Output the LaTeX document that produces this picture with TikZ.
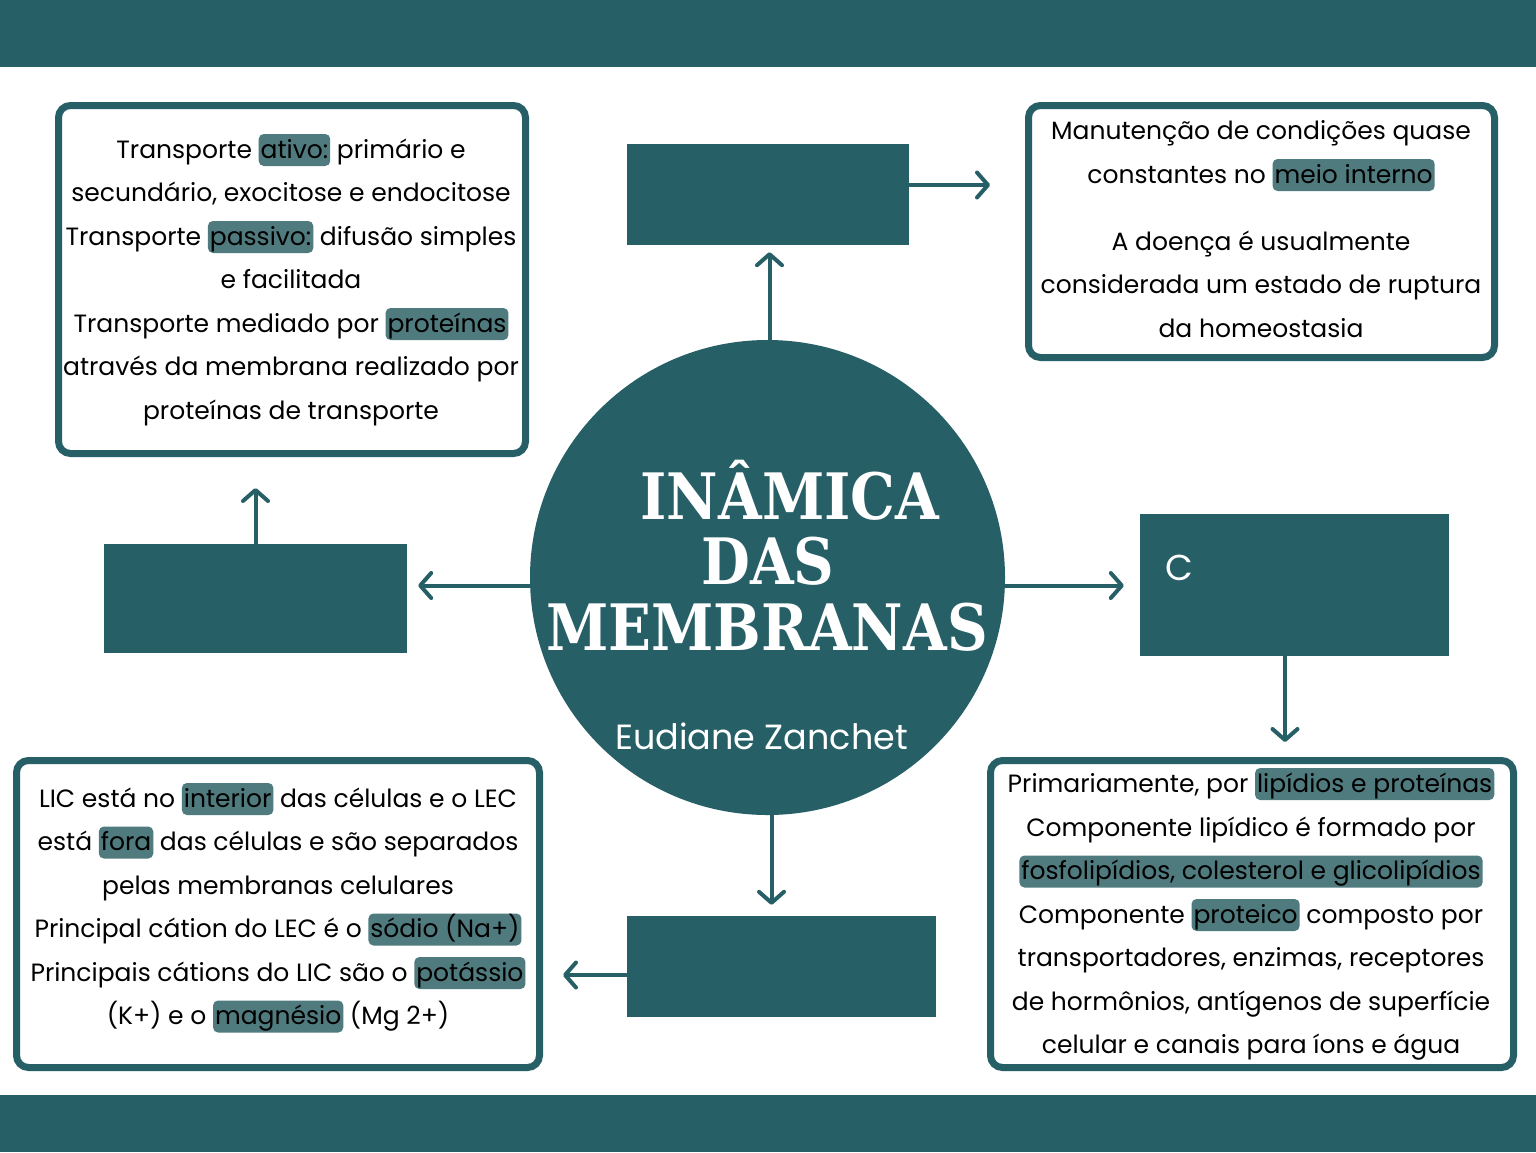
\documentclass[tikz,border=0pt]{standalone}
\usepackage{fontspec}
\usepackage{graphicx}
\setmainfont{Poppins}
\newfontfamily\titlefont{DejaVu Serif}
\usetikzlibrary{arrows.meta,calc}
\definecolor{teal1}{HTML}{265F66}
\definecolor{hlc}{HTML}{4F7A7E}
\tikzset{
  panel/.style={draw=teal1, line width=7pt, rounded corners=12pt, fill=white, inner sep=0pt},
  blockr/.style={fill=teal1, inner sep=0pt},
  arr/.style={draw=teal1, line width=4pt, -{Straight Barb[length=11pt,width=25pt,round]}},
  body/.style={anchor=base, inner sep=0pt, text=black, font=\fontsize{25}{30}\selectfont},
  hlbox/.style={fill=hlc, rounded corners=5pt, inner xsep=2pt, inner ysep=0pt, text height=24pt, text depth=8pt, anchor=base},
  titlest/.style={anchor=base, inner sep=0pt, text=white, font=\titlefont\bfseries\fontsize{64}{64}\selectfont},
}
\newcommand\hlw[1]{\tikz[baseline=0pt]\node[hlbox]{#1};}
\newcommand\tsq[1]{\scalebox{0.88}[1]{#1}}
\begin{document}
\begin{tikzpicture}[x=1pt,y=-1pt]
\useasboundingbox (0,0) rectangle (1536,1152);
\fill[white] (0,0) rectangle (1536,1152);
% bars
\fill[teal1] (0,0) rectangle (1536,67);
\fill[teal1] (0,1095) rectangle (1536,1152);
% panels
\node[panel, minimum width=467pt, minimum height=348pt] (tl) at (292,279.5) {};
\node[panel, minimum width=466pt, minimum height=252pt] (tr) at (1261.5,231.5) {};
\node[panel, minimum width=523pt, minimum height=307pt] (bl) at (278,914) {};
\node[panel, minimum width=523pt, minimum height=307pt] (br) at (1252,914) {};
% dark blocks
\node[blockr, minimum width=282pt, minimum height=101pt] (ctop) at (768,194.5) {};
\node[blockr, minimum width=303pt, minimum height=109pt] (lrect) at (255.5,598.5) {};
\node[blockr, minimum width=309pt, minimum height=142pt] (rrect) at (1294.5,585) {};
\node[blockr, minimum width=309pt, minimum height=101pt] (brect) at (781.5,966.5) {};
\node[anchor=base, inner sep=0pt, text=white, font=\fontsize{36}{36}\selectfont] (cl) at (1179,580) {C};
% circle
\node[circle, fill=teal1, minimum size=475pt, inner sep=0pt] (circ) at (767.5,577.5) {};
\node[titlest] (ti1) at (790,519) {\tsq{INÂMICA}};
\node[titlest] (ti2) at (768,584) {\tsq{DAS}};
\node[titlest] (ti3) at (767,650) {\tsq{MEMBRANAS}};
\node[anchor=base, inner sep=0pt, text=white, font=\fontsize{35}{35}\selectfont] (auth) at (761.5,749) {Eudiane Zanchet};
% free ends
\coordinate (e2) at (990,185);
\coordinate (e6) at (1285,742);
\coordinate (e8) at (563,975);
% arrows
\draw[arr] ([xshift=2pt]circ.north) -- ([xshift=2pt]circ.north |- ctop.south) [shorten >=7pt];
\draw[arr] (ctop.east |- e2) -- (e2);
\draw[arr] ([yshift=-8pt]circ.west) -- ([yshift=-8pt,xshift=11pt]lrect.east |- circ.west);
\draw[arr] (lrect.north) -- ([yshift=-31pt]lrect.north |- tl.south);
\draw[arr] ([yshift=-8pt]circ.east) -- ([yshift=-8pt,xshift=-16pt]rrect.west |- circ.east);
\draw[arr] (e6 |- rrect.south) -- (e6);
\draw[arr] ([xshift=4pt]circ.south) -- ([xshift=4pt,yshift=11pt]circ.south |- brect.north);
\draw[arr] (brect.west |- e8) -- (e8);
% TL text
\node[body] (a1) at (291,158) {Transporte \hlw{ativo:} primário e};
\node[body] (a2) at (291,201.5) {secundário, exocitose e endocitose};
\node[body] (a3) at (291,245) {Transporte \hlw{passivo:} difusão simples};
\node[body] (a4) at (291,288.5) {e facilitada};
\node[body] (a5) at (291,332) {Transporte mediado por \hlw{proteínas}};
\node[body] (a6) at (291,375.5) {através da membrana realizado por};
\node[body] (a7) at (291,419) {proteínas de transporte};
% TR text
\node[body] (b1) at (1261,139) {Manutenção de condições quase};
\node[body] (b2) at (1261,183) {constantes no \hlw{meio interno\hspace{8pt}}};
\node[body] (b3) at (1261,250) {A doença é usualmente};
\node[body] (b4) at (1261,293.5) {considerada um estado de ruptura};
\node[body] (b5) at (1261,337) {da homeostasia};
% BL text
\node[body] (c1) at (278,807) {LIC está no \hlw{interior} das células e o LEC};
\node[body] (c2) at (278,850.5) {está \hlw{fora} das células e são separados};
\node[body] (c3) at (278,894) {pelas membranas celulares};
\node[body] (c4) at (278,937.5) {Principal cátion do LEC é o \hlw{sódio (Na+)}};
\node[body] (c5) at (278,981) {Principais cátions do LIC são o \hlw{potássio}};
\node[body] (c6) at (278,1024.5) {(K+) e o \hlw{magnésio} (Mg 2+)};
% BR text
\node[body] (d1) at (1251,792) {Primariamente, por \hlw{lipídios e proteínas}};
\node[body] (d2) at (1251,836) {Componente lipídico é formado por};
\node[body] (d3) at (1251,879.5) {\hlw{fosfolipídios, colesterol e glicolipídios\hspace{10pt}}};
\node[body] (d4) at (1251,923) {Componente \hlw{proteico} composto por};
\node[body] (d5) at (1251,966.5) {transportadores, enzimas, receptores};
\node[body] (d6) at (1251,1010) {de hormônios, antígenos de superfície};
\node[body] (d7) at (1251,1053.5) {celular e canais para íons e água};
\end{tikzpicture}
\end{document}
